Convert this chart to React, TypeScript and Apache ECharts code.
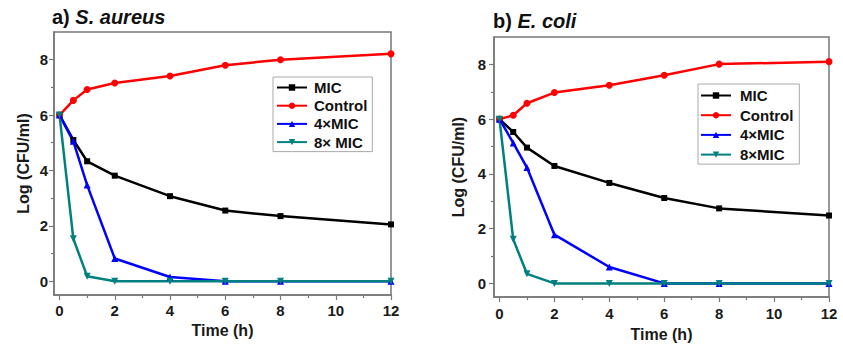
import React, { useEffect, useRef } from "react";
import * as echarts from "echarts";

const times = [0, 0.5, 1, 2, 4, 6, 8, 12];

// Panel a) S. aureus
const micA = [6, 5.1, 4.33, 3.81, 3.07, 2.55, 2.35, 2.05];
const controlA = [6, 6.53, 6.92, 7.16, 7.41, 7.8, 8.0, 8.21];
const mic4A = [6, 5.05, 3.47, 0.82, 0.15, 0, 0, 0];
const mic8A = [6, 1.53, 0.18, 0, 0, 0, 0, 0];

// Panel b) E. coli
const micB = [6, 5.53, 4.96, 4.29, 3.67, 3.12, 2.74, 2.48];
const controlB = [6, 6.14, 6.58, 6.97, 7.24, 7.6, 8.01, 8.1];
const mic4B = [6, 5.13, 4.23, 1.78, 0.6, 0, 0, 0];
const mic8B = [6, 1.61, 0.35, 0, 0, 0, 0, 0];

const legendA = ["MIC", "Control", "4×MIC", "8× MIC"];
const legendB = ["MIC", "Control", "4×MIC", "8×MIC"];

const xMajor = [0, 2, 4, 6, 8, 10, 12];
const xMinor = [1, 3, 5, 7, 9, 11];
const yMajor = [0, 2, 4, 6, 8];
const yMinor = [1, 3, 5, 7];

const FONT = "'Liberation Sans', Arial, sans-serif";
const FRAME = "#777777";
const COLORS = ["#000000", "#ff0000", "#0000ff", "#008080"];
const SYMBOLS = ["rect", "circle", "triangle", "path://M0,0L10,0L5,9Z"];
const SIZES = [6, 7, 7, 7];

function pairs(vals: number[]) {
  return times.map((t, i) => [t, vals[i]]);
}

function axesFor(grid: number, labelMarginX: number, labelMarginY: number, nameGapX: number, nameGapY: number) {
  const xAxes = [
    {
      type: "value",
      gridIndex: grid,
      position: "bottom",
      min: -0.2,
      max: 12,
      name: "Time (h)",
      nameLocation: "middle",
      nameGap: nameGapX,
      nameTextStyle: { fontFamily: FONT, fontWeight: "bold", fontSize: 16, color: "#1a1a1a" },
      axisLine: { show: true, onZero: false, lineStyle: { color: FRAME, width: 1.5 } },
      axisTick: { show: true, inside: false, length: 5, customValues: xMajor, lineStyle: { color: FRAME, width: 1.2 } },
      axisLabel: { customValues: xMajor, margin: labelMarginX, fontFamily: FONT, fontWeight: "bold", fontSize: 15, color: "#1a1a1a" },
      splitLine: { show: false },
    },
    {
      type: "value",
      gridIndex: grid,
      position: "bottom",
      min: -0.2,
      max: 12,
      axisLine: { show: false, onZero: false },
      axisTick: { show: true, inside: false, length: 3, customValues: xMinor, lineStyle: { color: FRAME, width: 1.2 } },
      axisLabel: { show: false },
      splitLine: { show: false },
    },
  ];
  const yAxes = [
    {
      type: "value",
      gridIndex: grid,
      position: "left",
      min: -0.5,
      max: 9,
      name: "Log (CFU/ml)",
      nameLocation: "middle",
      nameGap: nameGapY,
      nameTextStyle: { fontFamily: FONT, fontWeight: "bold", fontSize: 16, color: "#1a1a1a" },
      axisLine: { show: true, onZero: false, lineStyle: { color: FRAME, width: 1.5 } },
      axisTick: { show: true, inside: false, length: 5, customValues: yMajor, lineStyle: { color: FRAME, width: 1.2 } },
      axisLabel: { customValues: yMajor, margin: labelMarginY, fontFamily: FONT, fontWeight: "bold", fontSize: 15, color: "#1a1a1a" },
      splitLine: { show: false },
    },
    {
      type: "value",
      gridIndex: grid,
      position: "left",
      min: -0.5,
      max: 9,
      axisLine: { show: false, onZero: false },
      axisTick: { show: true, inside: false, length: 3, customValues: yMinor, lineStyle: { color: FRAME, width: 1.2 } },
      axisLabel: { show: false },
      splitLine: { show: false },
    },
  ];
  return { xAxes, yAxes };
}

function seriesFor(names: string[], data: number[][], axisIndex: number) {
  return names.map((name, i) => ({
    type: "line",
    name,
    xAxisIndex: axisIndex,
    yAxisIndex: axisIndex,
    data: pairs(data[i]),
    symbol: SYMBOLS[i],
    symbolSize: SIZES[i],
    showSymbol: true,
    lineStyle: { color: COLORS[i], width: 2.5 },
    itemStyle: { color: COLORS[i] },
    emphasis: { disabled: true },
  }));
}

export default function App() {
  const ref = useRef<HTMLDivElement>(null);

  useEffect(() => {
    document.body.style.margin = "0";
    if (!ref.current) return;
    const chart = echarts.init(ref.current, null, { renderer: "svg" });

    const a = axesFor(0, 8, 6, 25, 23);
    const b = axesFor(1, 9, 8, 24, 28);

    const richTitle = {
      n: { fontFamily: FONT, fontWeight: "bold", fontSize: 20, color: "#111" },
      i: { fontFamily: FONT, fontWeight: "bold", fontStyle: "italic", fontSize: 20, color: "#111" },
    };

    const option = {
      animation: false,
      backgroundColor: "#ffffff",
      title: [
        {
          text: "{n|a) }{i|S. aureus}",
          left: 52,
          top: 7,
          padding: 0,
          textStyle: { rich: richTitle },
        },
        {
          text: "{n|b) }{i|E. coli}",
          left: 493,
          top: 11,
          padding: 0,
          textStyle: { rich: richTitle },
        },
      ],
      grid: [
        { left: 54, top: 32, width: 337, height: 263, show: true, borderColor: FRAME, borderWidth: 1.5, backgroundColor: "transparent" },
        { left: 494, top: 37, width: 335, height: 263, show: true, borderColor: FRAME, borderWidth: 1.5, backgroundColor: "transparent" },
      ],
      legend: [
        {
          data: legendA,
          orient: "vertical",
          left: 273,
          top: 77,
          padding: [3, 5, 2, 3],
          itemWidth: 30,
          itemHeight: 8,
          itemGap: 3.2,
          borderColor: "#aaaaaa",
          borderWidth: 1,
          selectedMode: false,
          textStyle: { fontFamily: FONT, fontWeight: "bold", fontSize: 15, color: "#111", padding: [0, 0, 0, 2] },
        },
        {
          data: legendB,
          orient: "vertical",
          left: 698,
          top: 84,
          padding: [4, 6, 2, 2],
          itemWidth: 30,
          itemHeight: 8,
          itemGap: 4.7,
          borderColor: "#aaaaaa",
          borderWidth: 1,
          selectedMode: false,
          textStyle: { fontFamily: FONT, fontWeight: "bold", fontSize: 15, color: "#111", padding: [0, 0, 0, 4] },
        },
      ],
      xAxis: [...a.xAxes, ...b.xAxes].map((ax, i) => ({ ...ax, gridIndex: i < 2 ? 0 : 1 })),
      yAxis: [...a.yAxes, ...b.yAxes].map((ax, i) => ({ ...ax, gridIndex: i < 2 ? 0 : 1 })),
      series: [
        ...seriesFor(legendA, [micA, controlA, mic4A, mic8A], 0),
        ...seriesFor(legendB, [micB, controlB, mic4B, mic8B], 2),
      ],
    };
    chart.setOption(option as any);
    return () => chart.dispose();
  }, []);

  return <div ref={ref} style={{ width: 843, height: 347 }} />;
}
